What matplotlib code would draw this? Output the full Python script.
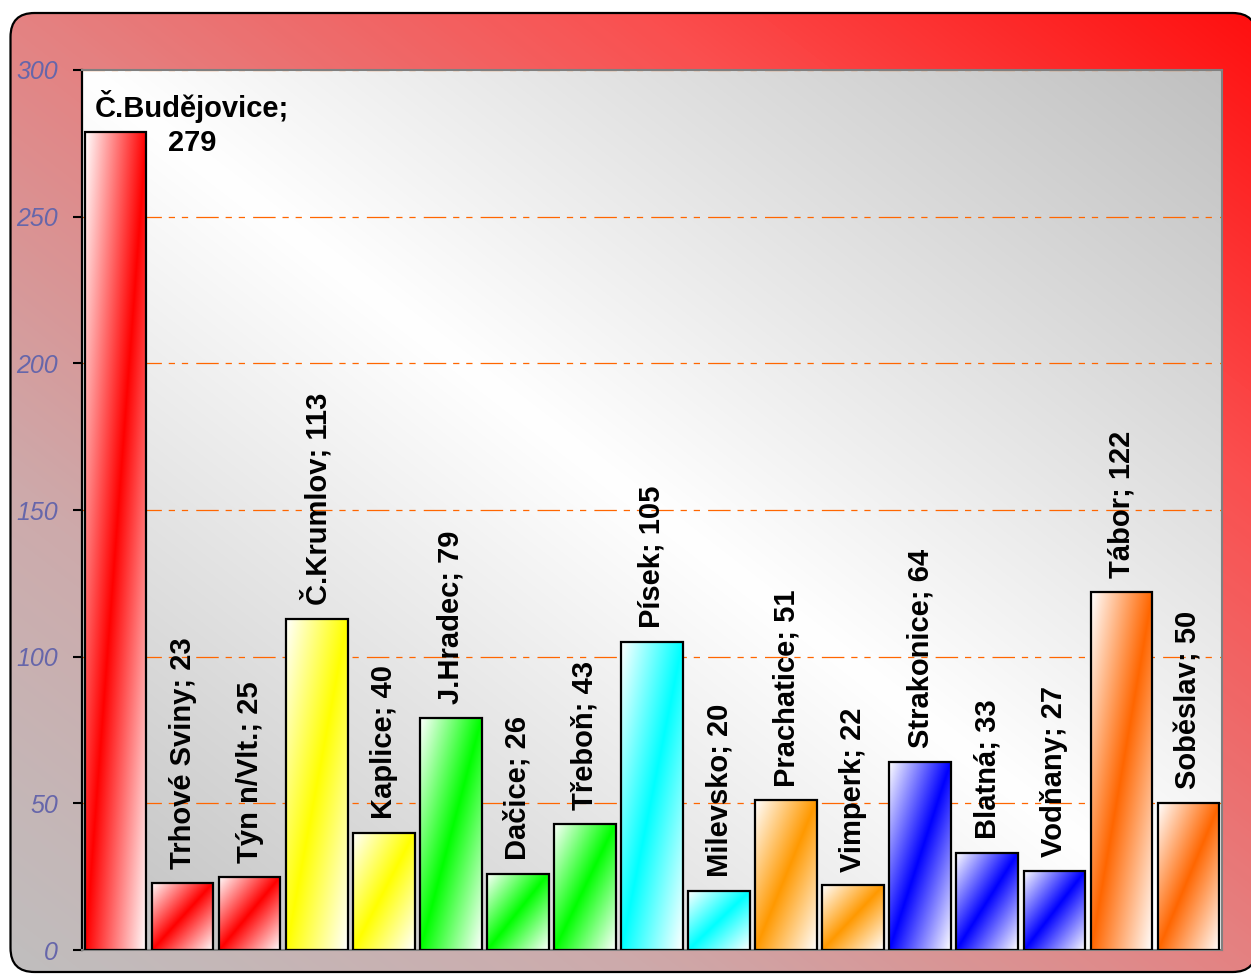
import numpy as np
import matplotlib.pyplot as plt
from matplotlib.patches import FancyBboxPatch, Polygon
from matplotlib.colors import LinearSegmentedColormap, to_rgb

plt.rcParams['font.family'] = ['Liberation Sans', 'DejaVu Sans']

towns = ['Č.Budějovice', 'Trhové Sviny', 'Týn n/Vlt.', 'Č.Krumlov', 'Kaplice',
         'J.Hradec', 'Dačice', 'Třeboň', 'Písek', 'Milevsko', 'Prachatice',
         'Vimperk', 'Strakonice', 'Blatná', 'Vodňany', 'Tábor', 'Soběslav']
counts = [279, 23, 25, 113, 40, 79, 26, 43, 105, 20, 51, 22, 64, 33, 27, 122, 50]
bar_colors = ['#FF0000', '#FF0000', '#FF0000', '#FFFF00', '#FFFF00',
              '#00FF00', '#00FF00', '#00FF00', '#00FFFF', '#00FFFF',
              '#FF9900', '#FF9900', '#0000FF', '#0000FF', '#0000FF',
              '#FF6600', '#FF6600']
yticks = [0, 50, 100, 150, 200, 250, 300]

W, H = 1251, 974
fig = plt.figure(figsize=(W / 100, H / 100), dpi=100, facecolor='white')

# rounded outer frame with diagonal gradient (runs off the right edge)
bg = fig.add_axes([0, 0, 1, 1], zorder=-1)
bg.set_xlim(0, W)
bg.set_ylim(0, H)
bg.axis('off')
fx, fy, fw, fh = 10.5, 2, 1246, 959
frame_fill = FancyBboxPatch((fx, fy), fw, fh, boxstyle='round,pad=0,rounding_size=24',
                            facecolor='none', edgecolor='none')
bg.add_patch(frame_fill)
frame_cmap = LinearSegmentedColormap.from_list('frame', [
    (0.0, (192/255, 190/255, 190/255)),
    (0.25, (205/255, 170/255, 171/255)),
    (0.5, (228/255, 130/255, 130/255)),
    (0.75, (250/255, 80/255, 80/255)),
    (1.0, (255/255, 15/255, 15/255))])
s, v = np.meshgrid(np.linspace(0, 1, 300), np.linspace(0, 1, 300))
im = bg.imshow((s + v) / 2, cmap=frame_cmap, vmin=0, vmax=1, origin='lower',
               extent=(fx, fx + fw, fy, fy + fh), aspect='auto',
               interpolation='bilinear', zorder=1)
im.set_clip_path(frame_fill)
bg.set_xlim(0, W)
bg.set_ylim(0, H)
# outline as a flattened polygon (curved segments get mangled when clipped)
outline = frame_fill.get_path().to_polygons()[0]
bg.add_patch(Polygon(outline, closed=True, facecolor='none', edgecolor='black',
                     linewidth=1.6, zorder=3))

# plot area
ax = fig.add_axes([82 / W, 24 / H, 1140 / W, 880 / H], zorder=1)
ax.set_facecolor('none')
x = np.arange(len(towns))
bars = ax.bar(x, counts, width=0.92, facecolor='none', edgecolor='black',
              linewidth=1.6, zorder=3)
ax.set_xlim(-0.5, len(towns) - 0.5)
ax.set_ylim(0, 300)

# plot area gradient: white along the main diagonal, grey in the other corners
s, u = np.meshgrid(np.linspace(0, 1, 300), np.linspace(0, 1, 300))
g = 1 - (1 - 192 / 255) * np.abs(s - u)
ax.imshow(np.dstack([g, g, g]), origin='upper', extent=(*ax.get_xlim(), *ax.get_ylim()),
          aspect='auto', interpolation='bilinear', zorder=0)

# bar gradients: white corners, colour band from bottom-left to top-right
for b, c in zip(bars, bar_colors):
    x0, w, h = b.get_x(), b.get_width(), b.get_height()
    S, T = np.meshgrid(np.linspace(0, 1, 80), np.linspace(0, 1, 300))
    k = np.abs(S - T)[..., None]
    rgb = np.array(to_rgb(c)) * (1 - k) + k
    ax.imshow(rgb, origin='lower', extent=(x0, x0 + w, 0, h), aspect='auto',
              interpolation='bilinear', zorder=2)

ax.set_xlim(-0.5, len(towns) - 0.5)
ax.set_ylim(0, 300)

ax.set_yticks(yticks)
ax.set_xticks([])
ax.grid(axis='y', color='#FF6600', linewidth=0.9,
        linestyle=(0, (18, 5.5, 5, 5.5, 5, 6.5)))
ax.set_axisbelow(True)
for lbl in ax.get_yticklabels():
    lbl.set_fontstyle('italic')
ax.tick_params(axis='y', direction='out', length=6.5, width=1.5, color='black',
               pad=11, labelsize=18, labelcolor='#6666AA')
for side in ['top', 'right', 'bottom']:
    ax.spines[side].set_color('#808080')
    ax.spines[side].set_linewidth(1.5)
ax.spines['left'].set_color('black')
ax.spines['left'].set_linewidth(1.6)

for i, (name, val) in enumerate(zip(towns, counts)):
    if i == 0:
        ax.annotate(f'{name};\n{val}', (x[i], val), xytext=(55, 6),
                    textcoords='offset points', ha='center', va='center',
                    fontsize=21, fontweight='bold', linespacing=1.25, zorder=5)
    else:
        ax.annotate(f'{name}; {val}', (x[i], val), xytext=(0, 10),
                    textcoords='offset points', ha='center', va='bottom',
                    rotation=90, fontsize=21, fontweight='bold', zorder=5)

fig.savefig('out.png', dpi=100, facecolor='white')
